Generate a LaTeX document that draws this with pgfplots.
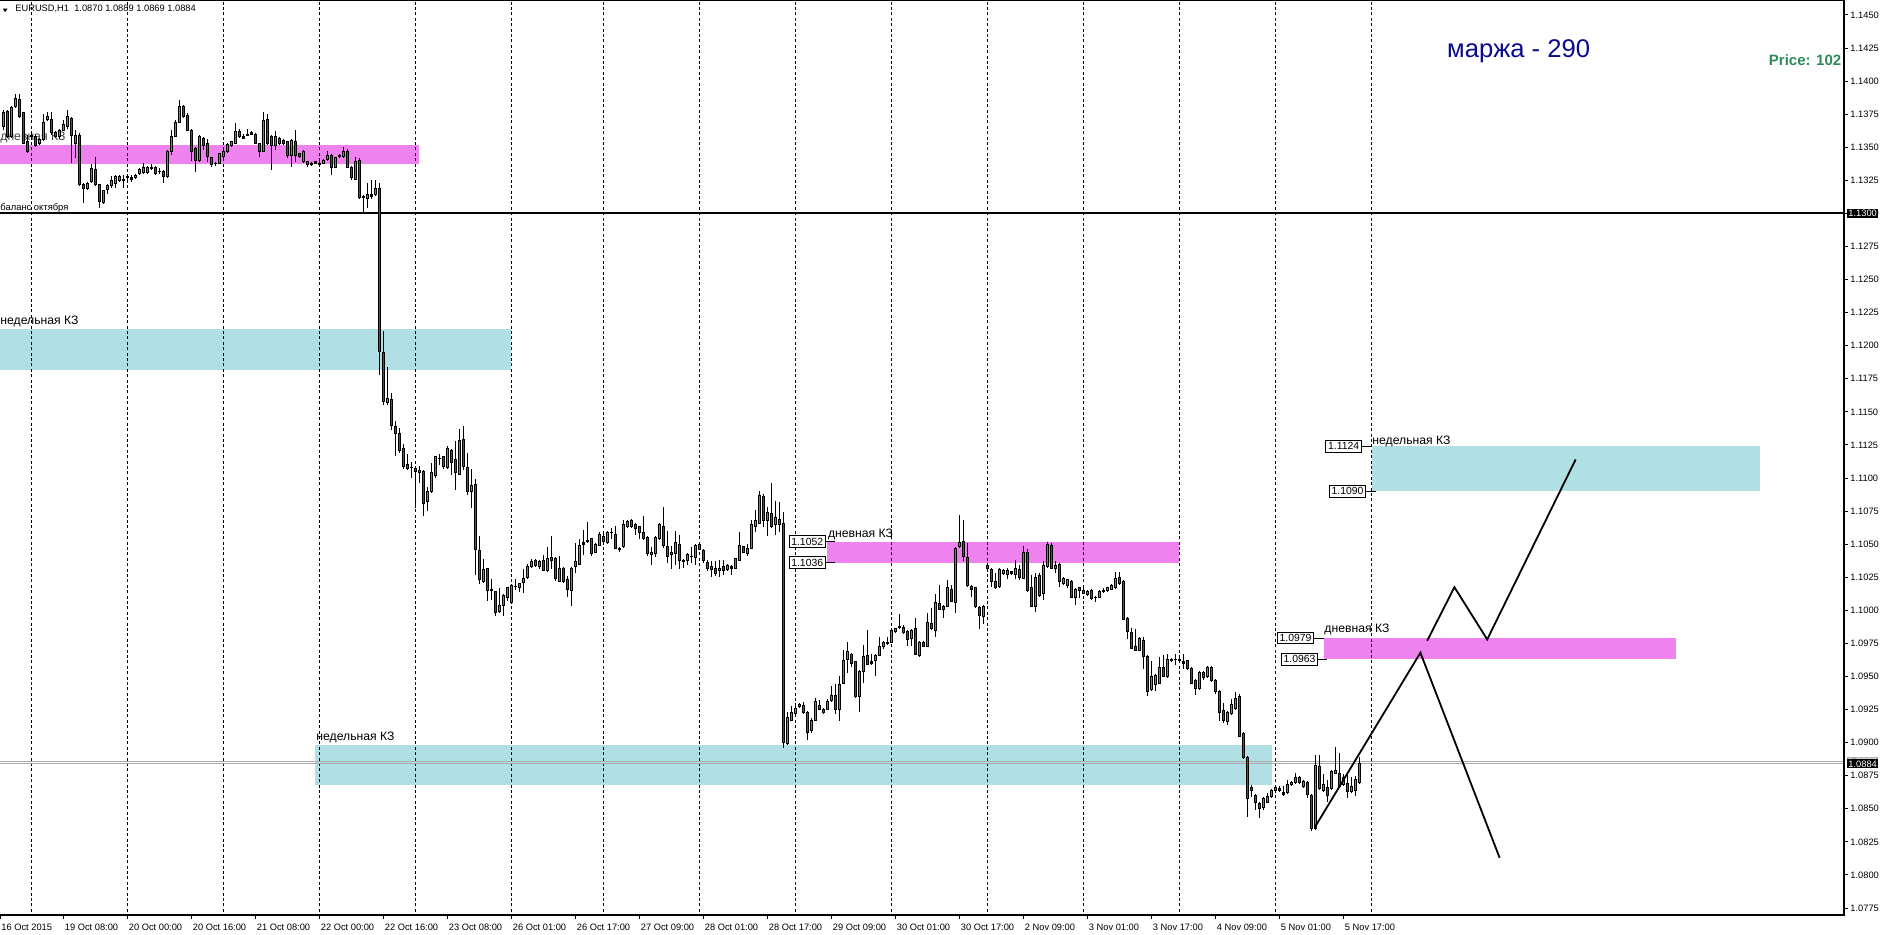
\documentclass[border=0pt]{standalone}
\usepackage{fontspec}
\setmainfont{Liberation Sans}
\usepackage{pgfplots}
\usepackage{pgfplotstable}
\pgfplotsset{compat=1.18}
\definecolor{zviolet}{RGB}{238,130,238}
\definecolor{zblue}{RGB}{176,224,230}
\definecolor{cgreen}{RGB}{50,180,50}
\definecolor{cred}{RGB}{215,25,25}
\definecolor{navytext}{RGB}{10,10,140}
\definecolor{pricegreen}{RGB}{46,139,87}
\definecolor{bidgray}{RGB}{170,170,170}
\newcommand\tickf{\fontsize{4.65pt}{5.5pt}\selectfont}
\newcommand\zonef{\fontsize{6.1pt}{7pt}\selectfont}
\newcommand\boxf{\fontsize{5.2pt}{6pt}\selectfont}

\pgfplotstableread{
o h l c
1.1366 1.1378 1.1363 1.1376
1.1377 1.1378 1.1357 1.1358
1.1358 1.1381 1.1357 1.1380
1.1381 1.1390 1.1380 1.1387
1.1386 1.1390 1.1372 1.1373
1.1376 1.1377 1.1353 1.1353
1.1354 1.1359 1.1346 1.1347
1.1358 1.1361 1.1356 1.1359
1.1358 1.1360 1.1350 1.1351
1.1353 1.1357 1.1352 1.1356
1.1356 1.1375 1.1355 1.1369
1.1371 1.1377 1.1370 1.1373
1.1371 1.1377 1.1359 1.1361
1.1361 1.1362 1.1357 1.1358
1.1358 1.1364 1.1356 1.1363
1.1363 1.1371 1.1362 1.1367
1.1366 1.1378 1.1364 1.1373
1.1372 1.1373 1.1338 1.1359
1.1353 1.1363 1.1342 1.1359
1.1359 1.1361 1.1321 1.1322
1.1322 1.1323 1.1308 1.1319
1.1319 1.1324 1.1318 1.1323
1.1324 1.1337 1.1323 1.1334
1.1333 1.1343 1.1321 1.1322
1.1322 1.1322 1.1304 1.1309
1.1308 1.1318 1.1307 1.1317
1.1318 1.1322 1.1315 1.1321
1.1321 1.1328 1.1319 1.1325
1.1323 1.1329 1.1319 1.1328
1.1325 1.1329 1.1324 1.1328
1.1326 1.1329 1.1319 1.1325
1.1327 1.1330 1.1325 1.1328
1.1327 1.1329 1.1324 1.1326
1.1327 1.1330 1.1326 1.1329
1.1330 1.1334 1.1329 1.1333
1.1331 1.1338 1.1330 1.1335
1.1331 1.1336 1.1330 1.1335
1.1334 1.1337 1.1333 1.1335
1.1335 1.1336 1.1329 1.1330
1.1332 1.1334 1.1330 1.1332
1.1332 1.1333 1.1323 1.1328
1.1328 1.1348 1.1327 1.1347
1.1347 1.1363 1.1344 1.1358
1.1358 1.1371 1.1358 1.1369
1.1369 1.1386 1.1369 1.1381
1.1381 1.1382 1.1372 1.1373
1.1374 1.1376 1.1362 1.1363
1.1363 1.1364 1.1340 1.1347
1.1349 1.1350 1.1331 1.1340
1.1340 1.1359 1.1339 1.1358
1.1357 1.1358 1.1348 1.1351
1.1353 1.1356 1.1339 1.1343
1.1342 1.1343 1.1335 1.1337
1.1338 1.1339 1.1336 1.1338
1.1338 1.1346 1.1337 1.1345
1.1343 1.1348 1.1342 1.1347
1.1347 1.1353 1.1346 1.1352
1.1351 1.1355 1.1350 1.1354
1.1353 1.1368 1.1353 1.1362
1.1362 1.1364 1.1357 1.1358
1.1357 1.1360 1.1356 1.1358
1.1359 1.1364 1.1359 1.1360
1.1360 1.1362 1.1359 1.1361
1.1360 1.1361 1.1353 1.1353
1.1353 1.1353 1.1343 1.1347
1.1347 1.1377 1.1347 1.1370
1.1371 1.1375 1.1352 1.1353
1.1358 1.1359 1.1333 1.1351
1.1351 1.1362 1.1348 1.1358
1.1357 1.1358 1.1352 1.1353
1.1355 1.1356 1.1352 1.1353
1.1354 1.1355 1.1342 1.1344
1.1344 1.1356 1.1335 1.1355
1.1354 1.1363 1.1339 1.1344
1.1345 1.1346 1.1342 1.1343
1.1339 1.1348 1.1338 1.1347
1.1339 1.1340 1.1335 1.1337
1.1338 1.1339 1.1336 1.1337
1.1338 1.1340 1.1337 1.1339
1.1338 1.1341 1.1335 1.1337
1.1338 1.1341 1.1337 1.1340
1.1341 1.1347 1.1340 1.1344
1.1344 1.1345 1.1329 1.1335
1.1335 1.1343 1.1334 1.1342
1.1343 1.1345 1.1342 1.1344
1.1343 1.1350 1.1342 1.1347
1.1347 1.1349 1.1334 1.1335
1.1335 1.1336 1.1325 1.1327
1.1326 1.1343 1.1325 1.1339
1.1340 1.1342 1.1311 1.1312
1.1313 1.1314 1.1301 1.1312
1.1311 1.1323 1.1304 1.1314
1.1313 1.1325 1.1311 1.1314
1.1314 1.1325 1.1313 1.1319
1.1319 1.1323 1.1178 1.1196
1.1195 1.1211 1.1155 1.1158
1.1157 1.1184 1.1155 1.1160
1.1159 1.1164 1.1136 1.1140
1.1139 1.1143 1.1117 1.1134
1.1134 1.1138 1.1119 1.1121
1.1122 1.1126 1.1107 1.1109
1.1110 1.1118 1.1106 1.1107
1.1108 1.1112 1.1100 1.1108
1.1107 1.1107 1.1077 1.1105
1.1104 1.1109 1.1096 1.1106
1.1105 1.1106 1.1071 1.1081
1.1082 1.1093 1.1075 1.1090
1.1090 1.1111 1.1089 1.1104
1.1102 1.1116 1.1100 1.1116
1.1115 1.1118 1.1110 1.1115
1.1116 1.1116 1.1107 1.1109
1.1108 1.1124 1.1107 1.1122
1.1121 1.1122 1.1102 1.1112
1.1114 1.1128 1.1091 1.1104
1.1103 1.1137 1.1102 1.1128
1.1129 1.1139 1.1106 1.1109
1.1108 1.1119 1.1087 1.1090
1.1090 1.1107 1.1077 1.1094
1.1095 1.1099 1.1027 1.1046
1.1045 1.1056 1.1020 1.1023
1.1022 1.1039 1.1021 1.1031
1.1032 1.1032 1.1007 1.1015
1.1016 1.1024 1.1008 1.1015
1.1014 1.1014 1.0996 1.0998
1.0999 1.1017 1.0998 1.1004
1.1004 1.1012 1.0996 1.1011
1.1010 1.1018 1.1007 1.1017
1.1006 1.1020 1.1005 1.1019
1.1018 1.1024 1.1015 1.1018
1.1017 1.1020 1.1014 1.1020
1.1021 1.1031 1.1013 1.1024
1.1025 1.1035 1.1024 1.1033
1.1033 1.1039 1.1032 1.1037
1.1038 1.1039 1.1033 1.1034
1.1033 1.1038 1.1031 1.1037
1.1038 1.1042 1.1030 1.1030
1.1030 1.1048 1.1029 1.1039
1.1040 1.1056 1.1031 1.1038
1.1039 1.1040 1.1022 1.1024
1.1022 1.1041 1.1022 1.1032
1.1032 1.1033 1.1021 1.1022
1.1023 1.1026 1.1010 1.1016
1.1015 1.1033 1.1003 1.1032
1.1033 1.1051 1.1028 1.1037
1.1035 1.1054 1.1035 1.1049
1.1050 1.1061 1.1042 1.1051
1.1052 1.1067 1.1051 1.1053
1.1054 1.1054 1.1041 1.1043
1.1044 1.1051 1.1043 1.1050
1.1049 1.1059 1.1049 1.1057
1.1056 1.1058 1.1051 1.1052
1.1051 1.1060 1.1050 1.1059
1.1059 1.1062 1.1054 1.1059
1.1057 1.1064 1.1046 1.1047
1.1047 1.1048 1.1044 1.1046
1.1048 1.1068 1.1047 1.1065
1.1063 1.1068 1.1062 1.1067
1.1068 1.1069 1.1062 1.1063
1.1065 1.1066 1.1057 1.1062
1.1063 1.1063 1.1054 1.1059
1.1059 1.1071 1.1053 1.1054
1.1055 1.1056 1.1041 1.1043
1.1042 1.1048 1.1034 1.1044
1.1043 1.1056 1.1040 1.1055
1.1054 1.1066 1.1053 1.1065
1.1063 1.1078 1.1047 1.1049
1.1048 1.1060 1.1036 1.1041
1.1042 1.1049 1.1031 1.1044
1.1043 1.1060 1.1034 1.1051
1.1050 1.1057 1.1031 1.1038
1.1038 1.1039 1.1032 1.1037
1.1038 1.1043 1.1034 1.1042
1.1041 1.1048 1.1036 1.1041
1.1040 1.1050 1.1034 1.1049
1.1050 1.1051 1.1046 1.1046
1.1045 1.1046 1.1036 1.1038
1.1036 1.1038 1.1030 1.1032
1.1033 1.1037 1.1025 1.1031
1.1032 1.1037 1.1026 1.1028
1.1030 1.1038 1.1025 1.1032
1.1033 1.1038 1.1027 1.1030
1.1031 1.1035 1.1030 1.1034
1.1033 1.1034 1.1027 1.1032
1.1032 1.1039 1.1032 1.1039
1.1038 1.1059 1.1038 1.1049
1.1048 1.1049 1.1043 1.1044
1.1043 1.1050 1.1041 1.1047
1.1047 1.1068 1.1047 1.1065
1.1063 1.1076 1.1059 1.1068
1.1066 1.1090 1.1066 1.1087
1.1086 1.1088 1.1063 1.1068
1.1068 1.1078 1.1056 1.1074
1.1073 1.1096 1.1062 1.1063
1.1065 1.1083 1.1057 1.1070
1.1069 1.1082 1.1059 1.1065
1.1066 1.1074 1.0896 1.0900
1.0899 1.0923 1.0898 1.0919
1.0917 1.0928 1.0917 1.0923
1.0922 1.0930 1.0921 1.0926
1.0927 1.0930 1.0926 1.0929
1.0928 1.0931 1.0922 1.0923
1.0923 1.0924 1.0902 1.0908
1.0909 1.0919 1.0907 1.0917
1.0917 1.0934 1.0916 1.0931
1.0928 1.0932 1.0925 1.0925
1.0925 1.0926 1.0922 1.0923
1.0925 1.0933 1.0925 1.0931
1.0932 1.0943 1.0931 1.0936
1.0936 1.0944 1.0922 1.0925
1.0925 1.0950 1.0916 1.0944
1.0945 1.0970 1.0944 1.0962
1.0963 1.0976 1.0953 1.0969
1.0967 1.0968 1.0957 1.0960
1.0961 1.0962 1.0934 1.0935
1.0935 1.0955 1.0923 1.0954
1.0954 1.0974 1.0945 1.0965
1.0966 1.0985 1.0959 1.0959
1.0961 1.0967 1.0959 1.0960
1.0962 1.0967 1.0950 1.0966
1.0966 1.0980 1.0966 1.0973
1.0973 1.0977 1.0971 1.0976
1.0975 1.0980 1.0974 1.0976
1.0976 1.0986 1.0975 1.0985
1.0984 1.0987 1.0983 1.0986
1.0987 1.0997 1.0986 1.0988
1.0987 1.0989 1.0982 1.0983
1.0984 1.0985 1.0973 1.0978
1.0979 1.0986 1.0973 1.0985
1.0986 1.0994 1.0966 1.0967
1.0966 1.0977 1.0965 1.0976
1.0976 1.0977 1.0972 1.0973
1.0973 1.0998 1.0972 1.0991
1.0990 1.1002 1.0985 1.0986
1.0985 1.1012 1.0980 1.1006
1.1005 1.1019 1.1001 1.1001
1.1003 1.1004 1.0994 1.1001
1.1003 1.1023 1.1003 1.1017
1.1016 1.1019 1.1006 1.1007
1.1006 1.1048 1.0998 1.1047
1.1048 1.1072 1.1047 1.1051
1.1052 1.1068 1.1037 1.1041
1.1040 1.1051 1.1018 1.1019
1.1018 1.1019 1.1010 1.1016
1.1017 1.1018 1.1002 1.1003
1.1002 1.1003 1.0986 1.0996
1.0995 1.1004 1.0990 1.1003
1.1034 1.1036 1.1031 1.1032
1.1031 1.1032 1.1018 1.1022
1.1022 1.1028 1.1016 1.1017
1.1018 1.1032 1.1017 1.1031
1.1028 1.1031 1.1027 1.1030
1.1027 1.1032 1.1024 1.1030
1.1029 1.1030 1.1027 1.1028
1.1027 1.1038 1.1024 1.1032
1.1031 1.1034 1.1023 1.1025
1.1024 1.1049 1.1024 1.1044
1.1044 1.1046 1.1014 1.1015
1.1017 1.1027 1.1003 1.1003
1.1003 1.1028 1.0999 1.1025
1.1026 1.1028 1.1010 1.1011
1.1013 1.1037 1.1008 1.1034
1.1033 1.1052 1.1032 1.1050
1.1049 1.1051 1.1031 1.1032
1.1032 1.1037 1.1028 1.1034
1.1035 1.1036 1.1018 1.1022
1.1020 1.1025 1.1019 1.1024
1.1019 1.1024 1.1017 1.1023
1.1022 1.1023 1.1009 1.1010
1.1010 1.1017 1.1004 1.1016
1.1017 1.1018 1.1009 1.1015
1.1015 1.1017 1.1012 1.1013
1.1012 1.1015 1.1011 1.1014
1.1015 1.1016 1.1008 1.1009
1.1010 1.1011 1.1006 1.1010
1.1010 1.1015 1.1009 1.1014
1.1014 1.1017 1.1013 1.1015
1.1015 1.1018 1.1014 1.1017
1.1016 1.1020 1.1015 1.1019
1.1017 1.1029 1.1016 1.1024
1.1025 1.1029 1.1019 1.1020
1.1022 1.1023 1.0993 1.0993
1.0994 1.0995 1.0978 1.0984
1.0983 1.0987 1.0971 1.0971
1.0973 1.0986 1.0969 1.0970
1.0970 1.0980 1.0969 1.0979
1.0977 1.0980 1.0956 1.0965
1.0965 1.0966 1.0935 1.0939
1.0940 1.0962 1.0939 1.0950
1.0944 1.0952 1.0939 1.0951
1.0945 1.0965 1.0944 1.0957
1.0957 1.0966 1.0950 1.0950
1.0950 1.0967 1.0949 1.0963
1.0962 1.0964 1.0961 1.0963
1.0963 1.0967 1.0959 1.0963
1.0962 1.0964 1.0961 1.0963
1.0961 1.0967 1.0956 1.0960
1.0962 1.0962 1.0955 1.0956
1.0956 1.0957 1.0944 1.0945
1.0947 1.0948 1.0936 1.0941
1.0941 1.0954 1.0940 1.0953
1.0953 1.0954 1.0947 1.0949
1.0950 1.0958 1.0949 1.0957
1.0957 1.0958 1.0946 1.0947
1.0947 1.0948 1.0937 1.0939
1.0939 1.0940 1.0916 1.0923
1.0924 1.0930 1.0915 1.0917
1.0916 1.0924 1.0913 1.0923
1.0922 1.0933 1.0921 1.0929
1.0926 1.0938 1.0925 1.0933
1.0935 1.0937 1.0904 1.0905
1.0907 1.0908 1.0888 1.0889
1.0889 1.0890 1.0844 1.0858
1.0866 1.0868 1.0859 1.0864
1.0860 1.0861 1.0849 1.0855
1.0854 1.0855 1.0843 1.0850
1.0851 1.0859 1.0849 1.0858
1.0855 1.0862 1.0854 1.0859
1.0859 1.0865 1.0858 1.0864
1.0864 1.0867 1.0863 1.0866
1.0864 1.0867 1.0863 1.0865
1.0862 1.0867 1.0860 1.0861
1.0862 1.0872 1.0861 1.0868
1.0868 1.0871 1.0867 1.0870
1.0870 1.0877 1.0869 1.0874
1.0874 1.0875 1.0869 1.0870
1.0867 1.0872 1.0866 1.0871
1.0870 1.0871 1.0858 1.0861
1.0860 1.0861 1.0833 1.0835
1.0835 1.0891 1.0834 1.0883
1.0882 1.0891 1.0864 1.0865
1.0864 1.0876 1.0863 1.0868
1.0866 1.0872 1.0855 1.0860
1.0865 1.0879 1.0864 1.0878
1.0877 1.0897 1.0876 1.0879
1.0877 1.0892 1.0867 1.0867
1.0868 1.0876 1.0867 1.0874
1.0869 1.0876 1.0858 1.0863
1.0863 1.0874 1.0862 1.0867
1.0864 1.0875 1.0860 1.0872
1.0870 1.0889 1.0869 1.0884
}\candles
\pgfplotstablecreatecol[expr={\pgfplotstablerow+0.875}]{xi}{\candles}

\begin{document}
\begin{tikzpicture}
\begin{axis}[
  name=ax,
  at={(0,0)}, anchor=south west,
  scale only axis, width=922pt, height=457.5pt,
  xmin=0, xmax=461, ymin=1.076973, ymax=1.146134,
  axis line style={draw=none},
  tick style={black, line width=0.5pt},
  major tick length=2pt,
  tick align=outside,
  xtick pos=left, ytick pos=right,
  xticklabel pos=left, yticklabel pos=right,
  xtick={0,15.875,31.875,47.875,63.875,79.875,95.875,111.875,127.875,143.875,159.875,175.875,191.875,207.875,223.875,239.875,255.875,271.875,287.875,303.875,319.875,335.875},
  xticklabels={16 Oct 2015,19 Oct 08:00,20 Oct 00:00,20 Oct 16:00,21 Oct 08:00,22 Oct 00:00,22 Oct 16:00,23 Oct 08:00,26 Oct 01:00,26 Oct 17:00,27 Oct 09:00,28 Oct 01:00,28 Oct 17:00,29 Oct 09:00,30 Oct 01:00,30 Oct 17:00,2 Nov 09:00,3 Nov 01:00,3 Nov 17:00,4 Nov 09:00,5 Nov 01:00,5 Nov 17:00},
  ytick={1.0775,1.0800,1.0825,1.0850,1.0875,1.0900,1.0925,1.0950,1.0975,1.1000,1.1025,1.1050,1.1075,1.1100,1.1125,1.1150,1.1175,1.1200,1.1225,1.1250,1.1275,1.1300,1.1325,1.1350,1.1375,1.1400,1.1425,1.1450},
  yticklabels={1.0775,1.0800,1.0825,1.0850,1.0875,1.0900,1.0925,1.0950,1.0975,1.1000,1.1025,1.1050,1.1075,1.1100,1.1125,1.1150,1.1175,1.1200,1.1225,1.1250,1.1275,1.1300,1.1325,1.1350,1.1375,1.1400,1.1425,1.1450},
  xticklabel style={font=\tickf, anchor=north west, inner sep=0pt, xshift=0.5pt, yshift=-2.5pt},
  yticklabel style={font=\tickf, anchor=west, inner sep=0pt, xshift=1pt},
]
% zones
\addplot[fill=zviolet, draw=none] coordinates {(0,1.1337) (104.75,1.1337) (104.75,1.1352) (0,1.1352)};
\addplot[fill=zblue, draw=none] coordinates {(0,1.1182) (127.75,1.1182) (127.75,1.1213) (0,1.1213)};
\addplot[fill=zviolet, draw=none] coordinates {(206.75,1.1036) (294.75,1.1036) (294.75,1.1052) (206.75,1.1052)};
\addplot[fill=zblue, draw=none] coordinates {(78.75,1.0868) (318,1.0868) (318,1.0898) (78.75,1.0898)};
\addplot[fill=zblue, draw=none] coordinates {(343,1.1090) (440,1.1090) (440,1.1124) (343,1.1124)};
\addplot[fill=zviolet, draw=none] coordinates {(330.9,1.0963) (418.9,1.0963) (418.9,1.0979) (330.9,1.0979)};
% day separators
\addplot[black, line width=0.5pt, dash pattern=on 1.5pt off 1.2pt, quiver={u=0,v=0.0695}] coordinates {(7.875,1.0768) (31.875,1.0768) (55.875,1.0768) (79.875,1.0768) (103.875,1.0768) (127.875,1.0768) (150.875,1.0768) (174.875,1.0768) (198.875,1.0768) (222.875,1.0768) (246.875,1.0768) (270.875,1.0768) (294.875,1.0768) (318.875,1.0768) (342.875,1.0768)};
% zone texts
\node[anchor=base west, inner sep=0pt, font=\zonef] at (axis cs:0,1.12157) {недельная КЗ};
\node[anchor=base west, inner sep=0pt, font=\zonef, text=black!75] at (axis cs:0,1.1355) {дневная КЗ};
\node[anchor=base west, inner sep=0pt, font=\fontsize{4.7pt}{5.5pt}\selectfont] at (axis cs:0,1.13019) {баланс октября};
\node[anchor=base west, inner sep=0pt, font=\zonef] at (axis cs:206.9,1.10554) {дневная КЗ};
\node[anchor=base west, inner sep=0pt, font=\zonef] at (axis cs:79,1.090125) {недельная КЗ};
\node[anchor=base west, inner sep=0pt, font=\zonef] at (axis cs:343,1.11257) {недельная КЗ};
\node[anchor=base west, inner sep=0pt, font=\zonef] at (axis cs:331,1.09829) {дневная КЗ};
% header and captions
\node[anchor=base west, inner sep=0pt, font=\tickf] at (axis cs:3.75,1.14525) {EURUSD,H1\ \ 1.0870 1.0889 1.0869 1.0884};
\node[anchor=base west, inner sep=0pt, font=\fontsize{12.8pt}{14pt}\selectfont, text=navytext] at (axis cs:361.7,1.14177) {маржа - 290};
\node[anchor=base east, inner sep=0pt, font=\fontsize{7.5pt}{8.5pt}\selectfont\bfseries, text=pricegreen] at (axis cs:460.4,1.14117) {Price: 102};
% horizontal lines
\addplot[black, line width=1.05pt] coordinates {(0,1.1300) (461,1.1300)};
\addplot[bidgray, line width=0.5pt] coordinates {(0,1.0886) (461,1.0886)};
\addplot[bidgray, line width=0.5pt] coordinates {(0,1.0884) (461,1.0884)};
% candles: wicks
\addplot[black, line width=0.5pt, quiver={u=0, v=\thisrow{l}-\thisrow{h}}] table[x=xi, y=h] {\candles};
% bodies outline
\addplot[black, line width=1.7pt, quiver={u=0, v=-abs(\thisrow{c}-\thisrow{o})-0.0000756}] table[x=xi, y expr={max(\thisrow{o},\thisrow{c})+0.0000378}] {\candles};
% up bodies
\addplot[cgreen, line width=0.8pt, quiver={u=0, v=\thisrow{o}-\thisrow{c}+0.0000756}] table[x=xi, y expr={(\thisrow{c}-\thisrow{o}>0.00011) ? (\thisrow{c}-0.0000378) : nan}] {\candles};
% down bodies
\addplot[cred, line width=0.8pt, quiver={u=0, v=\thisrow{c}-\thisrow{o}+0.0000756}] table[x=xi, y expr={(\thisrow{o}-\thisrow{c}>0.00011) ? (\thisrow{o}-0.0000378) : nan}] {\candles};
% forecast lines
\addplot[black, line width=0.9pt] coordinates {(328.7,1.0836) (355.1,1.0968) (374.9,1.0813)};
\addplot[black, line width=0.9pt] coordinates {(356.8,1.0977) (363.6,1.10175) (371.8,1.0978) (393.9,1.1114)};
% level label boxes
\addplot[black, line width=0.5pt] coordinates {(206.3,1.1052) (208.8,1.1052)};
\addplot[black, line width=0.5pt] coordinates {(206.3,1.1036) (208.8,1.1036)};
\addplot[black, line width=0.5pt] coordinates {(340.3,1.1124) (343,1.1124)};
\addplot[black, line width=0.5pt] coordinates {(341.3,1.1090) (344,1.1090)};
\addplot[black, line width=0.5pt] coordinates {(328.4,1.0979) (330.9,1.0979)};
\addplot[black, line width=0.5pt] coordinates {(329.4,1.0963) (331.8,1.0963)};
\node[draw=black, line width=0.5pt, fill=white, font=\boxf, inner xsep=0.9pt, inner ysep=0pt, minimum height=5.8pt, minimum width=18pt] at (axis cs:201.8,1.1052) {1.1052};
\node[draw=black, line width=0.5pt, fill=white, font=\boxf, inner xsep=0.9pt, inner ysep=0pt, minimum height=5.8pt, minimum width=18pt] at (axis cs:201.8,1.1036) {1.1036};
\node[draw=black, line width=0.5pt, fill=white, font=\boxf, inner xsep=0.9pt, inner ysep=0pt, minimum height=5.8pt, minimum width=18pt] at (axis cs:335.9,1.1124) {1.1124};
\node[draw=black, line width=0.5pt, fill=white, font=\boxf, inner xsep=0.9pt, inner ysep=0pt, minimum height=5.8pt, minimum width=18pt] at (axis cs:336.9,1.1090) {1.1090};
\node[draw=black, line width=0.5pt, fill=white, font=\boxf, inner xsep=0.9pt, inner ysep=0pt, minimum height=5.8pt, minimum width=18pt] at (axis cs:323.9,1.0979) {1.0979};
\node[draw=black, line width=0.5pt, fill=white, font=\boxf, inner xsep=0.9pt, inner ysep=0pt, minimum height=5.8pt, minimum width=18pt] at (axis cs:324.9,1.0963) {1.0963};
\coordinate (p1300) at (axis cs:461,1.1300);
\coordinate (p0884) at (axis cs:461,1.0884);
\coordinate (p0886) at (axis cs:461,1.0886);
\end{axis}
\draw[black, line width=0.6pt] (ax.south west) -- (ax.south east) -- (ax.north east) -- (ax.north west);
\node[fill=black, text=white, anchor=west, font=\tickf, inner xsep=0.8pt, inner ysep=0.6pt] at ([xshift=1.2pt]p1300) {1.1300};
\node[fill=bidgray, text=white, anchor=west, font=\tickf, inner xsep=0.8pt, inner ysep=0.6pt] at ([xshift=1.2pt]p0886) {1.0886};
\node[fill=black, text=white, anchor=west, font=\tickf, inner xsep=0.8pt, inner ysep=0.6pt] at ([xshift=1.2pt]p0884) {1.0884};
\fill[black] (1.4pt,453.2pt) -- (3.8pt,453.2pt) -- (2.6pt,451.4pt) -- cycle;
\pgfresetboundingbox
\path (0,-10pt) rectangle (943pt,457.5pt);
\end{tikzpicture}
\end{document}
